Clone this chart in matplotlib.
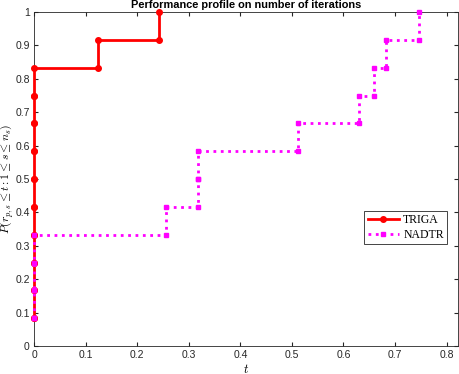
import matplotlib.pyplot as plt
import numpy as np

plt.rcParams['font.family'] = ['Liberation Sans', 'DejaVu Sans']
plt.rcParams['mathtext.fontset'] = 'cm'

# performance profile data (t, fraction of problems)
t_triga = [0, 0, 0, 0, 0, 0, 0, 0, 0, 0, 0.125, 0.2417]
p_triga = [1/12, 2/12, 3/12, 4/12, 5/12, 6/12, 7/12, 8/12, 9/12, 10/12, 11/12, 12/12]

t_nadtr = [0, 0, 0, 0, 0.2567, 0.318, 0.318, 0.512, 0.630, 0.660, 0.682, 0.747]
p_nadtr = [1/12, 2/12, 3/12, 4/12, 5/12, 6/12, 7/12, 8/12, 9/12, 10/12, 11/12, 12/12]


def stairs(t, p):
    t = np.asarray(t)
    p = np.asarray(p)
    xs = np.empty(2 * len(t) - 1)
    ys = np.empty(2 * len(t) - 1)
    xs[0::2] = t
    ys[0::2] = p
    xs[1::2] = t[1:]
    ys[1::2] = p[:-1]
    return xs, ys


fig = plt.figure(figsize=(4.59, 3.74), dpi=100)
ax = fig.add_axes([34/459, 28/374, 424/459, 334/374])

x1, y1 = stairs(t_triga, p_triga)
x2, y2 = stairs(t_nadtr, p_nadtr)
ax.plot(x1, y1, '-', color='red', lw=2, marker='o', ms=4, label='TRIGA', clip_on=False, zorder=3)
ax.plot(x2, y2, ':', color='magenta', lw=2, marker='s', ms=3.5, label='NADTR', clip_on=False, zorder=4)

ax.set_xlim(0, 0.822)
ax.set_ylim(0, 1)
ax.set_xticks(np.arange(0, 0.81, 0.1))
ax.set_xticklabels(['0', '0.1', '0.2', '0.3', '0.4', '0.5', '0.6', '0.7', '0.8'])
ax.set_yticks(np.arange(0, 1.01, 0.1))
ax.set_yticklabels(['0', '0.1', '0.2', '0.3', '0.4', '0.5', '0.6', '0.7', '0.8', '0.9', '1'])
ax.tick_params(direction='in', top=True, right=True, labelsize=7.5, colors='0.15', length=3, pad=3)
for s in ax.spines.values():
    s.set_color('0.15')
    s.set_linewidth(0.6)

ax.set_title('Performance profile on number of iterations', fontsize=7.9, fontweight='bold', pad=3)
ax.set_xlabel('$t$', fontsize=9)
ax.xaxis.set_label_coords(0.5, -0.052)
ax.set_ylabel(r'$P(r_{p,s} \leq t : 1 \leq s \leq n_s)$', fontsize=8.5)
ax.yaxis.set_label_coords(-0.045, 0.5)

leg = ax.legend(loc='upper right', bbox_to_anchor=(0.975, 0.405),
                prop={'family': 'Liberation Serif', 'size': 8.5}, fancybox=False,
                edgecolor='0.15', framealpha=1, handlelength=2.6, borderpad=0.3,
                labelspacing=0.2, handletextpad=0.4, borderaxespad=0)
leg.get_frame().set_linewidth(0.6)

plt.savefig('out.png', dpi=100)
